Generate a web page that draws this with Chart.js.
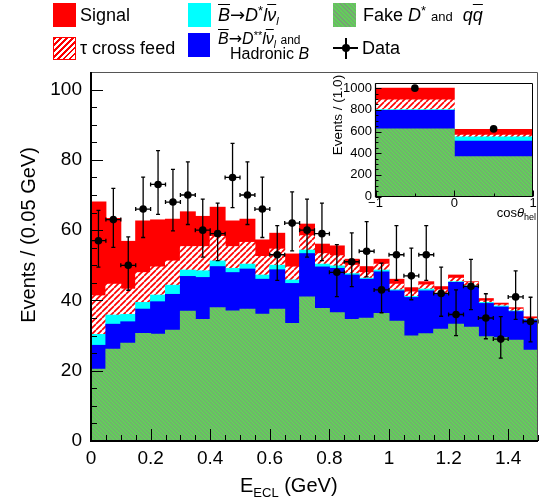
<!DOCTYPE html>
<html>
<head>
<meta charset="utf-8">
<script src="https://cdn.jsdelivr.net/npm/chart.js@4.4.0/dist/chart.umd.min.js"></script>
<style>
  html, body { margin: 0; padding: 0; background: #fff; }
  #wrap { position: relative; width: 542px; height: 503px; overflow: hidden;
          font-family: 'Liberation Sans', Arial, sans-serif; color: #000; }
  canvas { position: absolute; }
  .txt { position: absolute; white-space: nowrap; line-height: 1; }
  .sw { position: absolute; }
  .ov { text-decoration: overline; }
  .arr { font-family: 'DejaVu Sans', sans-serif; }
  .sup { position: relative; top: -6px; font-size: 13px; }
  .sub { position: relative; top: 4px; font-size: 11px; }
</style>
</head>
<body>
<div id="wrap">
  <canvas id="main" width="542" height="503" style="left:0;top:0"></canvas>
  <canvas id="inset" width="212" height="150" style="left:330px;top:72px"></canvas>

  <!-- legend, row 1 -->
  <div class="sw" style="left:53px;top:3px;width:23px;height:24px;background:#f00"></div>
  <div class="txt" style="left:80px;top:6px;font-size:18px">Signal</div>
  <div class="sw" style="left:188px;top:3px;width:23px;height:24px;background:#0ff"></div>
  <div class="txt" style="left:218px;top:6px;font-size:18px"><i class="ov">B</i><span class="arr">→</span><i>D</i><span class="sup">*</span><i>l</i><i class="ov">ν</i><span class="sub"><i>l</i></span></div>
  <div class="sw" style="left:333px;top:3px;width:23px;height:24px;background:repeating-linear-gradient(45deg, rgb(120,160,118) 0 1px, rgb(100,204,92) 1px 3px)"></div>
  <div class="txt" style="left:363px;top:6px;font-size:18px">Fake <i>D</i><span class="sup">*</span> <span style="font-size:13px">and</span>&nbsp; <i>q</i><i class="ov">q</i></div>

  <!-- legend, row 2 -->
  <div class="sw" style="left:53px;top:37px;width:21px;height:21px;border:1px solid #f00;background:repeating-linear-gradient(135deg, #f00 0 1.6px, #fff 1.6px 4.2px)"></div>
  <div class="txt" style="left:80px;top:39px;font-size:18px">τ cross feed</div>
  <div class="sw" style="left:188px;top:33px;width:22px;height:24px;background:#00f"></div>
  <div class="txt" style="left:218px;top:31px;font-size:16px"><i class="ov">B</i><span class="arr">→</span><i>D</i><span class="sup" style="font-size:11px;top:-5px">**</span><i>l</i><i class="ov">ν</i><span class="sub" style="font-size:10px"><i>l</i></span> <span style="font-size:12px">and</span></div>
  <div class="txt" style="left:230px;top:46px;font-size:16px">Hadronic <i>B</i></div>
  <div class="sw" style="left:333px;top:47px;width:25px;height:2px;background:#000"></div>
  <div class="sw" style="left:345px;top:38px;width:2px;height:21px;background:#000"></div>
  <div class="sw" style="left:342px;top:44px;width:8px;height:8px;border-radius:50%;background:#000"></div>
  <div class="txt" style="left:362px;top:39px;font-size:18px">Data</div>

  <!-- axis titles -->
  <div class="txt" style="left:240px;top:475px;font-size:20px">E<span style="position:relative;top:5px;font-size:13px">ECL</span> (GeV)</div>
  <div class="txt" style="left:-92px;top:225px;width:240px;height:20px;text-align:center;font-size:20px;transform:rotate(-90deg)">Events / (0.05 GeV)</div>
  <div class="txt" style="left:278px;top:108px;width:120px;height:14px;text-align:center;font-size:13.5px;transform:rotate(-90deg)">Events / (1.0)</div>
  <div class="txt" style="right:6px;top:206px;font-size:13px">cos<i>θ</i><span style="position:relative;top:3px;font-size:9px">hel</span></div>
</div>

<script>
// ---- main histogram: E_ECL bins (bin centres, GeV) ----
const binCenters = [0.025, 0.075, 0.125, 0.175, 0.225, 0.275, 0.325, 0.375, 0.425, 0.475,
                    0.525, 0.575, 0.625, 0.675, 0.725, 0.775, 0.825, 0.875, 0.925, 0.975,
                    1.025, 1.075, 1.125, 1.175, 1.225, 1.275, 1.325, 1.375, 1.425, 1.475];
const binWidth = 0.05;

// stacked components, bottom to top
const fakeDstar = [20.4, 26.1, 27.8, 30.6, 30.4, 31.5, 36.9, 34.6, 37.9, 37.0,
                   37.5, 36.1, 37.5, 33.4, 41.0, 37.7, 36.5, 34.6, 34.9, 36.3,
                   34.1, 29.9, 30.5, 31.8, 33.2, 32.4, 29.7, 29.4, 28.7, 25.8];
const dssHadB   = [6.8, 7.1, 6.1, 6.9, 9.2, 10.2, 9.9, 11.9, 11.7, 10.9,
                   11.4, 9.9, 11.2, 11.4, 12.3, 11.8, 12.6, 12.6, 11.1, 11.8,
                   8.6, 10.9, 12.2, 9.9, 11.9, 11.4, 9.4, 8.7, 8.1, 8.6];
const dstarLnu  = [3.1, 2.6, 2.1, 1.9, 1.9, 2.6, 1.8, 1.9, 1.6, 1.2,
                   1.4, 1.2, 1.3, 1.0, 1.0, 0.8, 0.7, 0.4, 0.3, 0.5,
                   0.3, 0.3, 0.5, 0.3, 0.2, 0.3, 0.3, 0.3, 0.2, 0.2];
const tauCross  = [11.0, 8.8, 7.2, 8.5, 8.0, 6.9, 6.7, 6.9, 7.0, 6.2,
                   6.2, 5.3, 4.6, 3.7, 4.1, 3.0, 2.9, 2.4, 1.6, 1.7,
                   1.6, 1.3, 1.2, 1.0, 1.0, 1.0, 0.4, 0.3, 0.5, 0.2];
const signal    = [26.7, 18.7, 13.6, 14.7, 13.4, 11.9, 9.9, 8.6, 8.3, 7.3,
                   6.6, 4.7, 4.5, 3.7, 3.3, 2.7, 2.8, 1.7, 1.7, 1.4,
                   1.4, 1.2, 0.9, 0.9, 0.9, 0.2, 0.7, 0.5, 0.4, 0.5];

// data with asymmetric errors
const dataVals  = [57, 63, 50, 66, 73, 68, 70, 60, 59, 75,
                   70, 66, 53, 62, 60, 59, 48, 51, 54, 43,
                   53, 47, 53, 42, 36, 44, 35, 29, 41, 34];
const dataErrUp = [8.6, 8.9, 8.1, 9.1, 9.6, 9.3, 9.4, 8.8, 8.7, 9.7,
                   9.4, 9.1, 8.3, 8.9, 8.8, 8.7, 7.9, 8.2, 8.4, 7.6,
                   8.3, 7.9, 8.3, 7.5, 7.0, 7.7, 6.9, 6.4, 7.4, 6.9];
const dataErrDn = [7.5, 7.9, 7.1, 8.1, 8.5, 8.2, 8.4, 7.7, 7.7, 8.6,
                   8.4, 8.1, 7.3, 7.9, 7.7, 7.7, 6.9, 7.1, 7.3, 6.5,
                   7.3, 6.8, 7.3, 6.5, 6.0, 6.6, 5.9, 5.4, 6.4, 5.8];

const xTicks = [0, 0.2, 0.4, 0.6, 0.8, 1, 1.2, 1.4];
const yTicks = [0, 20, 40, 60, 80, 100];

// ---- inset: cos(theta_hel), two bins ----
const insetCenters = [-0.5, 0.5];
const insetFake    = [623, 368];
const insetDss     = [171, 141];
const insetDstar   = [6, 41];
const insetTau     = [91, 15];
const insetSignal  = [109, 53];
const insetData    = [1000, 624];
const insetXTicks = [-1, 0, 1];
const insetYTicks = [0, 200, 400, 600, 800, 1000];

const FONT = 'Liberation Sans, Arial, sans-serif';

function makeHatch(bg, fg, size, lw, slash) {
    let c = document.createElement('canvas');
    c.width = size; c.height = size;
    let g = c.getContext('2d');
    g.fillStyle = bg;
    g.fillRect(0, 0, size, size);
    g.strokeStyle = fg;
    g.lineWidth = lw;
    g.beginPath();
    for (let k = -1; k <= 1; k++) {
        if (slash) { g.moveTo(k * size, size); g.lineTo(k * size + size, 0); }
        else { g.moveTo(k * size, 0); g.lineTo(k * size + size, size); }
    }
    g.stroke();
    return g.createPattern(c, 'repeat');
}

const greenFill = makeHatch('rgb(100,204,92)', 'rgb(122,160,120)', 4, 1, false);
const tauFill = makeHatch('#ffffff', '#ff0000', 6, 1.7, true);

function barSet(label, centers, values, color) {
    return {
        type: 'bar',
        label: label,
        data: values.map((v, i) => ({ x: centers[i], y: v })),
        backgroundColor: color,
        borderWidth: 0,
        inflateAmount: 0.5,
        barPercentage: 1,
        categoryPercentage: 1
    };
}

// error bars drawn just before the data markers
const errorBars = {
    id: 'errorBars',
    beforeDatasetDraw(chart, args) {
        let ds = chart.data.datasets[args.index];
        if (!ds.errUp) return;
        let { ctx, scales: { x, y } } = chart;
        ctx.save();
        ctx.strokeStyle = '#000';
        ctx.lineWidth = 1.3;
        ctx.beginPath();
        ds.data.forEach((p, i) => {
            let px = x.getPixelForValue(p.x);
            let py = y.getPixelForValue(p.y);
            let top = y.getPixelForValue(p.y + ds.errUp[i]);
            let bot = y.getPixelForValue(p.y - ds.errDn[i]);
            let l = x.getPixelForValue(p.x - ds.halfWidth);
            let r = x.getPixelForValue(p.x + ds.halfWidth);
            ctx.moveTo(px, top); ctx.lineTo(px, bot);
            ctx.moveTo(px - 2, top); ctx.lineTo(px + 2, top);
            ctx.moveTo(px - 2, bot); ctx.lineTo(px + 2, bot);
            ctx.moveTo(l, py); ctx.lineTo(r, py);
            ctx.moveTo(l, py - 2); ctx.lineTo(l, py + 2);
            ctx.moveTo(r, py - 2); ctx.lineTo(r, py + 2);
        });
        ctx.stroke();
        ctx.restore();
    }
};

// ROOT-like frame with ticks pointing inwards
const rootFrame = {
    id: 'rootFrame',
    afterDatasetsDraw(chart, args, o) {
        let { ctx, chartArea: a, scales: { x, y } } = chart;
        ctx.save();
        ctx.strokeStyle = '#000';
        ctx.lineWidth = 1;
        ctx.beginPath();
        for (let v = x.min; v <= x.max + 1e-9; v += o.xMinor) {
            let major = Math.abs(v / o.xMajor - Math.round(v / o.xMajor)) < 1e-6;
            let px = Math.round(x.getPixelForValue(v)) + 0.5;
            ctx.moveTo(px, a.bottom);
            ctx.lineTo(px, a.bottom - (major ? o.majorLen : o.minorLen));
        }
        for (let v = y.min; v <= y.max + 1e-9; v += o.yMinor) {
            let major = Math.abs(v / o.yMajor - Math.round(v / o.yMajor)) < 1e-6;
            let py = Math.round(y.getPixelForValue(v)) + 0.5;
            ctx.moveTo(a.left, py);
            ctx.lineTo(a.left + (major ? o.majorLen : o.minorLen), py);
        }
        ctx.stroke();
        // top and right border
        ctx.strokeStyle = o.boxColor;
        ctx.lineWidth = 1;
        ctx.beginPath();
        ctx.moveTo(a.left, Math.round(a.top) + 0.5);
        ctx.lineTo(Math.round(a.right) - 0.5, Math.round(a.top) + 0.5);
        ctx.lineTo(Math.round(a.right) - 0.5, a.bottom);
        ctx.stroke();
        // axes
        ctx.strokeStyle = '#000';
        ctx.lineWidth = o.axisWidth;
        ctx.beginPath();
        ctx.moveTo(a.left, a.top);
        ctx.lineTo(a.left, a.bottom);
        ctx.lineTo(a.right, a.bottom);
        ctx.stroke();
        ctx.restore();
    }
};

function axisOpts(min, max, tickVals, size, fontSize, pad, stacked) {
    return {
        type: 'linear',
        min: min,
        max: max,
        offset: false,
        stacked: stacked,
        afterBuildTicks: s => { s.ticks = tickVals.map(v => ({ value: v })); },
        afterFit: s => { if (s.isHorizontal()) s.height = size; else s.width = size; },
        grid: { display: false, drawTicks: false },
        border: { display: false },
        ticks: {
            font: { family: FONT, size: fontSize },
            color: '#000',
            padding: pad,
            maxRotation: 0,
            autoSkip: false,
            callback: v => (v < 0 ? '\u2212' + Math.abs(v) : String(v))
        }
    };
}

// main chart
new Chart(document.getElementById('main').getContext('2d'), {
    type: 'bar',
    data: {
        datasets: [
            barSet('Fake D* and qq', binCenters, fakeDstar, greenFill),
            barSet('B -> D** l nu and Hadronic B', binCenters, dssHadB, '#0000ff'),
            barSet('B -> D* l nu', binCenters, dstarLnu, '#00ffff'),
            barSet('tau cross feed', binCenters, tauCross, tauFill),
            barSet('Signal', binCenters, signal, '#ff0000'),
            {
                type: 'scatter',
                label: 'Data',
                stack: 'data',
                order: -1,
                data: dataVals.map((v, i) => ({ x: binCenters[i], y: v })),
                errUp: dataErrUp,
                errDn: dataErrDn,
                halfWidth: binWidth / 2,
                pointRadius: 3.8,
                pointBackgroundColor: '#000',
                pointBorderWidth: 0
            }
        ]
    },
    options: {
        responsive: false,
        animation: false,
        layout: { padding: { top: 72, right: 1, left: 0, bottom: 0 } },
        plugins: {
            legend: { display: false },
            tooltip: { enabled: false },
            rootFrame: { xMinor: 0.05, xMajor: 0.2, yMinor: 5, yMajor: 20,
                         majorLen: 12, minorLen: 6, boxColor: '#555', axisWidth: 2 }
        },
        scales: {
            x: axisOpts(0, 1.5, xTicks, 62, 19, 6, true),
            y: axisOpts(0, 105, yTicks, 91, 19, 9, true)
        }
    },
    plugins: [errorBars, rootFrame]
});

// inset chart
new Chart(document.getElementById('inset').getContext('2d'), {
    type: 'bar',
    data: {
        datasets: [
            barSet('Fake D* and qq', insetCenters, insetFake, greenFill),
            barSet('B -> D** l nu and Hadronic B', insetCenters, insetDss, '#0000ff'),
            barSet('B -> D* l nu', insetCenters, insetDstar, '#00ffff'),
            barSet('tau cross feed', insetCenters, insetTau, tauFill),
            barSet('Signal', insetCenters, insetSignal, '#ff0000'),
            {
                type: 'scatter',
                label: 'Data',
                stack: 'data',
                order: -1,
                data: insetData.map((v, i) => ({ x: insetCenters[i], y: v })),
                pointRadius: 3.8,
                pointBackgroundColor: '#000',
                pointBorderWidth: 0
            }
        ]
    },
    options: {
        responsive: false,
        animation: false,
        layout: { padding: { top: 6.5, right: 9, left: 0, bottom: 0 } },
        plugins: {
            legend: { display: false },
            tooltip: { enabled: false },
            rootFrame: { xMinor: 0.5, xMajor: 1, yMinor: 50, yMajor: 200,
                         majorLen: 6, minorLen: 3, boxColor: '#000', axisWidth: 1.2 }
        },
        scales: {
            x: axisOpts(-1, 1, insetXTicks, 25.5, 13, -1, true),
            y: axisOpts(0, 1045, insetYTicks, 45.5, 13, 3.5, true)
        }
    },
    plugins: [rootFrame]
});
</script>
</body>
</html>
